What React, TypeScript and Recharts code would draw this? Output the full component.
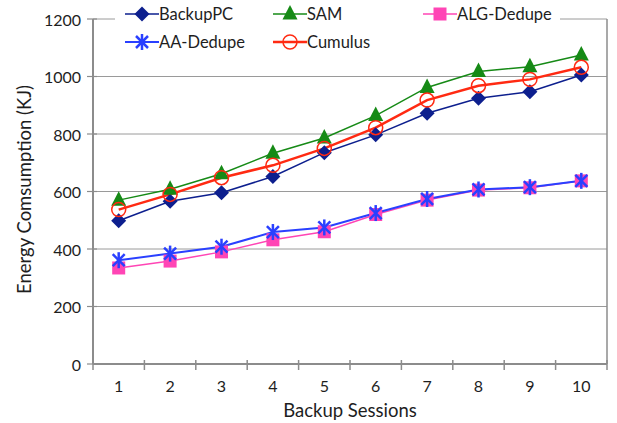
import { LineChart, Line, XAxis, YAxis, CartesianGrid, ReferenceLine, Label } from 'recharts'

const sessions = [1, 2, 3, 4, 5, 6, 7, 8, 9, 10]
const backupPC = [498, 566, 596, 652, 735, 797, 872, 924, 947, 1005]
const sam = [570, 608, 662, 733, 786, 864, 962, 1017, 1034, 1075]
const algDedupe = [334, 358, 390, 432, 460, 520, 570, 605, 613, 637]
const aaDedupe = [361, 384, 408, 459, 475, 525, 574, 607, 615, 637]
const cumulus = [537, 590, 648, 691, 750, 822, 918, 968, 990, 1032]
const yTicks = [0, 200, 400, 600, 800, 1000, 1200]

const data = sessions.map((s, i) => ({
  session: s,
  backupPC: backupPC[i],
  sam: sam[i],
  algDedupe: algDedupe[i],
  aaDedupe: aaDedupe[i],
  cumulus: cumulus[i],
}))

// integer ticks carry labels, half ticks carry the tick marks between sessions
const xTicks = [0.5, ...sessions.flatMap((s) => [s, s + 0.5])]

const AXIS = '#8c8c8c'
const TEXT = '#1e1e1e'

const Diamond = ({ cx, cy, color }: any) => (
  <polygon points={`${cx},${cy - 7.5} ${cx + 7.5},${cy} ${cx},${cy + 7.5} ${cx - 7.5},${cy}`} fill={color} />
)
const Triangle = ({ cx, cy, color }: any) => (
  <polygon points={`${cx},${cy - 9} ${cx + 7.5},${cy + 5.5} ${cx - 7.5},${cy + 5.5}`} fill={color} />
)
const Square = ({ cx, cy, color }: any) => <rect x={cx - 6.5} y={cy - 6.5} width={13} height={13} fill={color} />
const Star = ({ cx, cy, color }: any) => (
  <g stroke={color} strokeWidth={2.5}>
    <line x1={cx - 6} y1={cy - 6} x2={cx + 6} y2={cy + 6} />
    <line x1={cx - 6} y1={cy + 6} x2={cx + 6} y2={cy - 6} />
    <line x1={cx} y1={cy - 8} x2={cx} y2={cy + 8} />
  </g>
)
const Circle = ({ cx, cy, color }: any) => <circle cx={cx} cy={cy} r={7} fill="none" stroke={color} strokeWidth={1.5} />

const series = [
  { key: 'backupPC', name: 'BackupPC', color: '#0d1f8e', width: 1.5, Marker: Diamond },
  { key: 'sam', name: 'SAM', color: '#168a16', width: 1.5, Marker: Triangle },
  { key: 'algDedupe', name: 'ALG-Dedupe', color: '#ff45b5', width: 1.5, Marker: Square },
  { key: 'aaDedupe', name: 'AA-Dedupe', color: '#2a40ff', width: 2, Marker: Star },
  { key: 'cumulus', name: 'Cumulus', color: '#ff2a12', width: 2.5, Marker: Circle },
]

// legend order as in the reference: row by row
const legendOrder = ['backupPC', 'sam', 'algDedupe', 'aaDedupe', 'cumulus']
const legendCols = [10, 158, 308]
const legendRows = [4, 32]

const XTick = ({ x, y, payload }: any) => {
  const v = payload.value
  if (Number.isInteger(v)) {
    return (
      <text x={x} y={y + 21} textAnchor="middle" dominantBaseline="central" fontSize={16} fill={TEXT}>
        {v}
      </text>
    )
  }
  return <line x1={x} x2={x} y1={y - 4} y2={y + 6} stroke={AXIS} strokeWidth={1.5} />
}

const YTick = ({ x, y, payload }: any) => (
  <g>
    <line x1={x - 6} x2={x + 4} y1={y} y2={y} stroke={AXIS} strokeWidth={1.2} />
    <text x={x - 12} y={y} textAnchor="end" dominantBaseline="central" fontSize={16} fill={TEXT}>
      {payload.value}
    </text>
  </g>
)

export default function App() {
  return (
    <div style={{ position: 'absolute', left: 0, top: 0, width: 617, height: 423, background: '#fff', fontFamily: 'Lato, sans-serif' }}>
      <LineChart width={617} height={423} data={data} margin={{ top: 19, right: 10, bottom: 0, left: 0 }}>
        <CartesianGrid vertical={false} stroke="#9a9a9a" strokeWidth={1} />
        <XAxis
          dataKey="session"
          type="number"
          domain={[0.5, 10.5]}
          ticks={xTicks}
          interval={0}
          height={59}
          tickSize={0}
          tickMargin={0}
          tickLine={false}
          tick={<XTick />}
          axisLine={{ stroke: AXIS, strokeWidth: 2 }}
          label={{ value: 'Backup Sessions', position: 'insideBottom', offset: 6, fontSize: 18.5, fill: TEXT }}
        />
        <YAxis
          domain={[0, 1200]}
          ticks={yTicks}
          interval={0}
          width={93}
          tickSize={0}
          tickMargin={0}
          tickLine={false}
          tick={<YTick />}
          axisLine={{ stroke: AXIS, strokeWidth: 2 }}
        >
          <Label
            content={({ viewBox }: any) => {
              const cx = viewBox.x + 24
              const cy = viewBox.y + viewBox.height / 2 - 2
              return (
                <text x={cx} y={cy} transform={`rotate(-90 ${cx} ${cy})`} textAnchor="middle" dominantBaseline="central" fontSize={18.5} fill={TEXT}>
                  Energy Comsumption (KJ)
                </text>
              )
            }}
          />
        </YAxis>
        <ReferenceLine x={10.5} stroke={AXIS} strokeWidth={1.5} />
        {series.map(({ key, name, color, width, Marker }) => (
          <Line
            key={key}
            dataKey={key}
            name={name}
            type="linear"
            stroke={color}
            strokeWidth={width}
            dot={<Marker color={color} />}
            activeDot={false}
            isAnimationActive={false}
          />
        ))}
      </LineChart>
      <div style={{ position: 'absolute', left: 115, top: 0, width: 445, height: 56, background: '#fff' }}>
        {legendOrder.map((k, i) => {
          const s = series.find((d) => d.key === k)!
          const M = s.Marker
          return (
            <div
              key={k}
              style={{ position: 'absolute', left: legendCols[i % 3], top: legendRows[Math.floor(i / 3)], height: 20, display: 'flex', alignItems: 'center', fontSize: 16.5, color: TEXT, whiteSpace: 'nowrap' }}
            >
              <svg width={34} height={20}>
                <line x1={0} x2={34} y1={10} y2={10} stroke={s.color} strokeWidth={s.width} />
                <M cx={17} cy={10} color={s.color} />
              </svg>
              {s.name}
            </div>
          )
        })}
      </div>
    </div>
  )
}
